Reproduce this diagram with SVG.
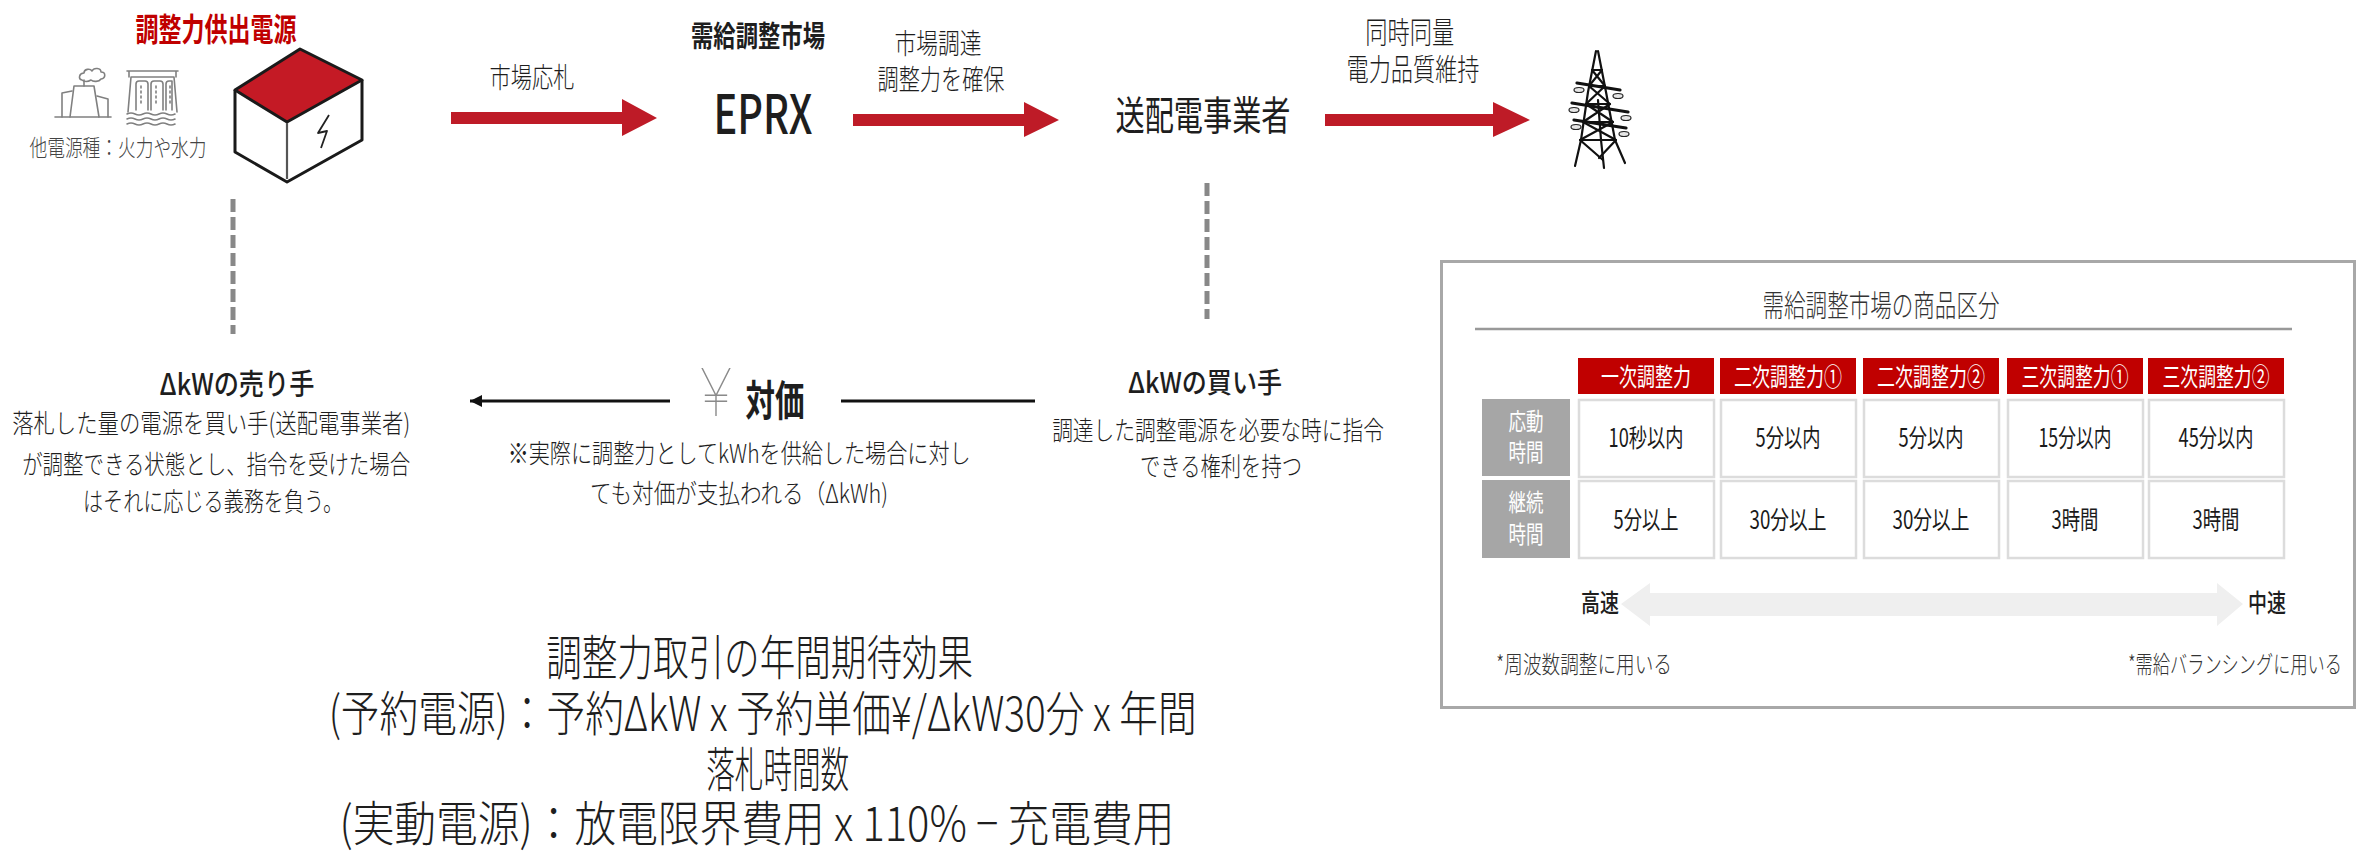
<svg xmlns="http://www.w3.org/2000/svg" width="2356" height="851" viewBox="0 0 2356 851">
  <style>
    text { font-family: "Noto Sans CJK JP", "Noto Sans", sans-serif; fill: #1e1e1e; font-weight: 300; }
    .c { text-anchor: middle; }
    .b { font-weight: 700; }
    .m { font-weight: 500; }
    .r { font-weight: 400; }
    .icon { fill: none; stroke: #808080; stroke-width: 1.6; stroke-linecap: round; stroke-linejoin: round; }
    .tower { fill: none; stroke: #111; stroke-width: 2.2; stroke-linecap: round; stroke-linejoin: round; }
    .flow { fill: #be1b27; }
    .dash { stroke: #888; stroke-width: 5; stroke-dasharray: 13 5; fill: none; }
    .pay { stroke: #111; stroke-width: 3; fill: none; }
    .hdr { fill: #c00000; }
    .hdrt { fill: #fff; font-size: 25px; font-weight: 400; }
    .cell { fill: #fff; stroke: #dcdcdc; stroke-width: 2.5; }
    .rowh { fill: #a6a6a6; }
    .rowt { fill: #fff; font-size: 24px; font-weight: 400; }
    .val { font-size: 25px; fill: #1a1a1a; font-weight: 400; }
  </style>
  <defs>
    <marker id="tip" markerUnits="userSpaceOnUse" markerWidth="14" markerHeight="14" refX="12" refY="7" orient="auto">
      <path d="M0,1 L12,7 L0,13 Z" fill="#111"/>
    </marker>
  </defs>

  <!-- balancing power supplier -->
  <g id="node-source">
    <text class="c b" x="216" y="41" font-size="32" style="fill:#c00000" textLength="161" lengthAdjust="spacingAndGlyphs">調整力供出電源</text>
    <!-- thermal plant -->
    <g class="icon">
      <path d="M55,117 H111"/>
      <path d="M62,117 V93 L72,91"/>
      <path d="M70,117 L74,86 H94 L99,117"/>
      <path d="M97,96 L108,99 V117"/>
      <path d="M84,86 V80"/>
      <path d="M82,80 c-4,-1 -3,-7 2,-7 c0,-4 6,-5 8,-2 c2,-4 9,-3 9,1 c5,0 5,6 0,7 c-2,3 -8,3 -10,1 c-3,2 -7,2 -9,0 Z"/>
    </g>
    <!-- hydro dam -->
    <g class="icon">
      <path d="M127,71 H178 M129,71 V77 M176,71 V77"/>
      <path d="M131,77 L128,112 M174,77 L177,112 M131,77 H174"/>
      <path d="M136,110 V84 q0,-3 3,-3 h6 q3,0 3,3 V110"/>
      <path d="M151,110 V84 q0,-3 3,-3 h6 q3,0 3,3 V110"/>
      <path d="M166,110 V84 q0,-3 3,-3 h3 V110"/>
      <path d="M141,86 V106 M156,86 V106 M170,86 V106" stroke-dasharray="2 3"/>
      <path d="M127,114 q4,-2 8,0 t8,0 t8,0 t8,0 t8,0 t8,0"/>
      <path d="M127,119 q4,-2 8,0 t8,0 t8,0 t8,0 t8,0 t8,0"/>
      <path d="M127,124 q4,-2 8,0 t8,0 t8,0 t8,0 t8,0 t8,0"/>
    </g>
    <text class="c" x="118" y="156" font-size="23" style="fill:#444" textLength="177" lengthAdjust="spacingAndGlyphs">他電源種：火力や水力</text>
    <!-- battery -->
    <path d="M235,90 V152 L287,182 L362,140 V80" fill="#fff" stroke="#1a1a1a" stroke-width="3" stroke-linejoin="round"/>
    <path d="M235,90 L300,49 L362,80 L287,122 Z" fill="#c41a25" stroke="#1a1a1a" stroke-width="3" stroke-linejoin="round"/>
    <path d="M287,123 V179" stroke="#555" stroke-width="2.2"/>
    <path d="M329,115 L318,133 L327,131 L321,148" fill="none" stroke="#222" stroke-width="1.8" stroke-linejoin="round"/>
  </g>

  <!-- market operator -->
  <g id="node-eprx">
    <text class="c b" x="758" y="47" font-size="29" textLength="134" lengthAdjust="spacingAndGlyphs">需給調整市場</text>
    <text class="c m" x="763" y="134" font-size="54" textLength="99" lengthAdjust="spacingAndGlyphs">EPRX</text>
  </g>

  <!-- transmission / distribution operator -->
  <g id="node-tso">
    <text class="c r" x="1203" y="130" font-size="40" textLength="175" lengthAdjust="spacingAndGlyphs">送配電事業者</text>
  </g>

  <!-- grid -->
  <g id="node-grid" class="tower">
    <path d="M1596,51 L1588,92 L1581,140 L1575,166"/>
    <path d="M1598,51 L1606,92 L1615,140 L1625,163"/>
    <path d="M1598,100 L1601,140 L1604,168"/>
    <path d="M1592,70 H1602 M1589,86 H1605 M1586,104 H1610 M1583,122 H1613 M1580,140 H1616"/>
    <path d="M1592,70 L1605,86 M1602,70 L1589,86 M1589,86 L1610,104 M1605,86 L1586,104 M1586,104 L1613,122 M1610,104 L1583,122 M1583,122 L1616,140 M1613,122 L1580,140 M1580,140 L1603,160 M1616,140 L1599,158"/>
    <path d="M1577,83 L1620,90 M1572,103 L1628,112 M1574,120 L1626,128" stroke-width="3.2"/>
    <g fill="#e6e6e6" stroke="#222" stroke-width="1.2">
      <ellipse cx="1579" cy="90" rx="5" ry="2.5"/>
      <ellipse cx="1618" cy="96" rx="5" ry="2.5"/>
      <ellipse cx="1574" cy="110" rx="5" ry="2.5"/>
      <ellipse cx="1626" cy="118" rx="5" ry="2.5"/>
      <ellipse cx="1576" cy="127" rx="5" ry="2.5"/>
      <ellipse cx="1624" cy="134" rx="5" ry="2.5"/>
    </g>
  </g>

  <!-- seller of ΔkW -->
  <g id="node-seller">
    <text class="c m" x="237" y="395" font-size="29" textLength="155" lengthAdjust="spacingAndGlyphs">ΔkWの売り手</text>
    <text class="c" font-size="26">
      <tspan x="214" y="433" textLength="398" lengthAdjust="spacingAndGlyphs">落札した量の電源を買い手(送配電事業者)</tspan>
      <tspan x="219" y="474" textLength="388" lengthAdjust="spacingAndGlyphs">が調整できる状態とし、指令を受けた場合</tspan>
      <tspan x="213" y="511" textLength="260" lengthAdjust="spacingAndGlyphs">はそれに応じる義務を負う。</tspan>
    </text>
  </g>

  <!-- payment -->
  <g id="node-price">
    <text class="c" x="716" y="416" font-size="66" style="fill:#8a8a8a;font-weight:100;font-family:Inter,Lato,'Noto Sans CJK JP',sans-serif" textLength="32" lengthAdjust="spacingAndGlyphs">¥</text>
    <text class="c b" x="775" y="416" font-size="42" textLength="59" lengthAdjust="spacingAndGlyphs">対価</text>
    <text class="c" font-size="26">
      <tspan x="742" y="463" textLength="463" lengthAdjust="spacingAndGlyphs">※実際に調整力としてkWhを供給した場合に対し</tspan>
      <tspan x="739" y="503" textLength="298" lengthAdjust="spacingAndGlyphs">ても対価が支払われる（ΔkWh)</tspan>
    </text>
  </g>

  <!-- buyer of ΔkW -->
  <g id="node-buyer">
    <text class="c m" x="1205" y="393" font-size="28" textLength="154" lengthAdjust="spacingAndGlyphs">ΔkWの買い手</text>
    <text class="c" font-size="26">
      <tspan x="1221" y="440" textLength="332" lengthAdjust="spacingAndGlyphs">調達した調整電源を必要な時に指令</tspan>
      <tspan x="1221" y="476" textLength="162" lengthAdjust="spacingAndGlyphs">できる権利を持つ</tspan>
    </text>
  </g>

  <!-- annual expected revenue -->
  <g id="node-formula">
    <text class="c" font-size="48">
      <tspan x="765" y="675" textLength="427" lengthAdjust="spacingAndGlyphs">調整力取引の年間期待効果</tspan>
      <tspan x="768" y="731" textLength="868" lengthAdjust="spacingAndGlyphs">(予約電源)：予約ΔkW x 予約単価¥/ΔkW30分 x 年間</tspan>
      <tspan x="783" y="787" textLength="143" lengthAdjust="spacingAndGlyphs">落札時間数</tspan>
      <tspan x="757" y="841" textLength="835" lengthAdjust="spacingAndGlyphs">(実動電源)：放電限界費用 x 110% − 充電費用</tspan>
    </text>
  </g>

  <!-- product categories of the balancing market -->
  <g id="node-products">
    <rect x="1441.5" y="261.5" width="913" height="446" fill="#fff" stroke="#a8a8a8" stroke-width="3"/>
    <text class="c" x="1881" y="316" font-size="30" style="fill:#333" textLength="237" lengthAdjust="spacingAndGlyphs">需給調整市場の商品区分</text>
    <path d="M1475,329 H2292" stroke="#999" stroke-width="2.5"/>

    <rect class="hdr" x="1578" y="358" width="136" height="36"/>
    <rect class="hdr" x="1720" y="358" width="136" height="36"/>
    <rect class="hdr" x="1863" y="358" width="136" height="36"/>
    <rect class="hdr" x="2007" y="358" width="136" height="36"/>
    <rect class="hdr" x="2148" y="358" width="136" height="36"/>
    <text class="c hdrt" x="1646" y="386" textLength="90" lengthAdjust="spacingAndGlyphs">一次調整力</text>
    <text class="c hdrt" x="1788" y="386" textLength="108" lengthAdjust="spacingAndGlyphs">二次調整力①</text>
    <text class="c hdrt" x="1931" y="386" textLength="108" lengthAdjust="spacingAndGlyphs">二次調整力②</text>
    <text class="c hdrt" x="2075" y="386" textLength="107" lengthAdjust="spacingAndGlyphs">三次調整力①</text>
    <text class="c hdrt" x="2216" y="386" textLength="107" lengthAdjust="spacingAndGlyphs">三次調整力②</text>

    <rect class="rowh" x="1482" y="399" width="88" height="77"/>
    <rect class="rowh" x="1482" y="480" width="88" height="78"/>
    <text class="c rowt"><tspan x="1526" y="430" textLength="35" lengthAdjust="spacingAndGlyphs">応動</tspan><tspan x="1526" y="461" textLength="35" lengthAdjust="spacingAndGlyphs">時間</tspan></text>
    <text class="c rowt"><tspan x="1526" y="511" textLength="35" lengthAdjust="spacingAndGlyphs">継続</tspan><tspan x="1526" y="543" textLength="35" lengthAdjust="spacingAndGlyphs">時間</tspan></text>

    <rect class="cell" x="1579" y="400" width="135" height="77"/>
    <rect class="cell" x="1721" y="400" width="135" height="77"/>
    <rect class="cell" x="1864" y="400" width="135" height="77"/>
    <rect class="cell" x="2008" y="400" width="135" height="77"/>
    <rect class="cell" x="2149" y="400" width="135" height="77"/>
    <rect class="cell" x="1579" y="481" width="135" height="77"/>
    <rect class="cell" x="1721" y="481" width="135" height="77"/>
    <rect class="cell" x="1864" y="481" width="135" height="77"/>
    <rect class="cell" x="2008" y="481" width="135" height="77"/>
    <rect class="cell" x="2149" y="481" width="135" height="77"/>

    <text class="c val" x="1646" y="447" textLength="75" lengthAdjust="spacingAndGlyphs">10秒以内</text>
    <text class="c val" x="1788" y="447" textLength="65" lengthAdjust="spacingAndGlyphs">5分以内</text>
    <text class="c val" x="1931" y="447" textLength="65" lengthAdjust="spacingAndGlyphs">5分以内</text>
    <text class="c val" x="2075" y="447" textLength="73" lengthAdjust="spacingAndGlyphs">15分以内</text>
    <text class="c val" x="2216" y="447" textLength="75" lengthAdjust="spacingAndGlyphs">45分以内</text>
    <text class="c val" x="1646" y="529" textLength="65" lengthAdjust="spacingAndGlyphs">5分以上</text>
    <text class="c val" x="1788" y="529" textLength="77" lengthAdjust="spacingAndGlyphs">30分以上</text>
    <text class="c val" x="1931" y="529" textLength="77" lengthAdjust="spacingAndGlyphs">30分以上</text>
    <text class="c val" x="2075" y="529" textLength="47" lengthAdjust="spacingAndGlyphs">3時間</text>
    <text class="c val" x="2216" y="529" textLength="47" lengthAdjust="spacingAndGlyphs">3時間</text>

    <path d="M1621,604 L1650,583 V593 H2217 V583 L2243,604 L2217,626 V616 H1650 V626 Z" fill="#efefef"/>
    <text class="c m" x="1600" y="612" font-size="25" textLength="38" lengthAdjust="spacingAndGlyphs">高速</text>
    <text class="c m" x="2267" y="612" font-size="25" textLength="38" lengthAdjust="spacingAndGlyphs">中速</text>
    <text x="1496" y="673" font-size="24" style="fill:#333" textLength="176" lengthAdjust="spacingAndGlyphs">*周波数調整に用いる</text>
    <text x="2128" y="673" font-size="24" style="fill:#333" textLength="214" lengthAdjust="spacingAndGlyphs">*需給バランシングに用いる</text>
  </g>

  <!-- connectors -->
  <g id="connectors">
    <path class="flow" d="M451,112 H622 V99 L657,118 L622,136 V124 H451 Z"/>
    <text class="c" x="532" y="88" font-size="28" textLength="85" lengthAdjust="spacingAndGlyphs">市場応札</text>

    <path class="flow" d="M853,114 H1024 V102 L1059,120 L1024,137 V126 H853 Z"/>
    <text class="c" font-size="28">
      <tspan x="941" y="54" textLength="87" lengthAdjust="spacingAndGlyphs">市場調達</tspan>
      <tspan x="941" y="90" textLength="127" lengthAdjust="spacingAndGlyphs">調整力を確保</tspan>
    </text>

    <path class="flow" d="M1325,114 H1493 V102 L1530,120 L1493,137 V126 H1325 Z"/>
    <text class="c" font-size="30">
      <tspan x="1413" y="43" textLength="89" lengthAdjust="spacingAndGlyphs">同時同量</tspan>
      <tspan x="1413" y="80" textLength="133" lengthAdjust="spacingAndGlyphs">電力品質維持</tspan>
    </text>

    <path class="dash" d="M233,199 V334"/>
    <path class="dash" d="M1207,183 V319"/>

    <path class="pay" d="M670,401 H470" marker-end="url(#tip)"/>
    <path class="pay" d="M841,401 H1035"/>
  </g>
</svg>
